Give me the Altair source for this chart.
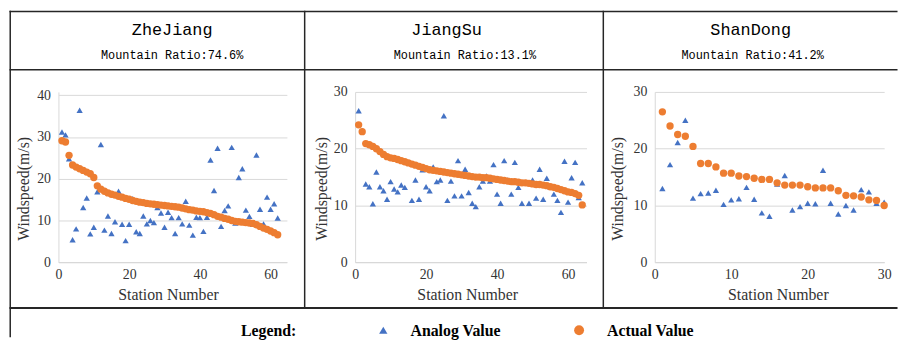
import altair as alt
import pandas as pd

BLUE = "#4472C4"
ORANGE = "#ED7D31"
LINE = "#262626"
MONO = "Liberation Mono"
SERIF = "Liberation Serif"

provinces = ["ZheJiang", "JiangSu", "ShanDong"]
mountain_ratio = ["Mountain Ratio:74.6%", "Mountain Ratio:13.1%", "Mountain Ratio:41.2%"]
series_names = ["Analog Value", "Actual Value"]

zj_analog = [31.2, 30.5, 24.8, 5.4, 8.0, 36.4, 13.1, 15.4, 6.8, 8.4,
             16.9, 28.2, 7.7, 11.1, 6.9, 9.7, 17.0, 9.1, 5.2, 9.1,
             15.2, 7.3, 6.9, 11.1, 9.2, 10.0, 9.5, 13.1, 11.8, 8.4,
             12.0, 10.7, 6.9, 10.7, 9.2, 14.6, 8.9, 6.5, 10.8, 10.7,
             7.4, 10.8, 24.5, 17.2, 27.3, 8.6, 12.4, 13.5, 27.5, 9.4,
             20.3, 22.4, 12.5, 11.0, 9.1, 25.7, 12.7, 9.2, 15.6, 12.7,
             14.0, 10.6]
zj_actual = [29.1, 28.8, 25.6, 23.3, 22.8, 22.4, 22.0, 21.6, 21.2, 20.3,
             18.3, 17.5, 17.0, 16.6, 16.3, 16.1, 15.8, 15.6, 15.3, 15.1,
             14.8, 14.6, 14.4, 14.3, 14.1, 14.0, 13.9, 13.8, 13.7, 13.6,
             13.5, 13.4, 13.3, 13.2, 13.0, 12.8, 12.6, 12.5, 12.3, 12.2,
             12.1, 11.9, 11.7, 11.4, 11.0, 10.8, 10.5, 10.3, 10.0, 9.8,
             9.7, 9.6, 9.5, 9.4, 9.3, 9.0, 8.6, 8.2, 7.9, 7.5,
             7.1, 6.6]

js_analog = [26.7, 23.2, 13.8, 13.3, 10.3, 15.9, 13.3, 12.6, 11.1, 14.2,
             12.9, 12.4, 13.6, 13.2, 17.6, 10.9, 14.5, 11.1, 16.3, 13.3,
             12.6, 16.8, 14.2, 14.5, 25.8, 10.9, 14.3, 11.7, 17.9, 11.7,
             16.4, 12.3, 10.4, 9.8, 13.3, 14.3, 15.2, 14.3, 17.2, 12.0,
             10.4, 17.9, 14.5, 12.0, 17.6, 13.2, 10.4, 14.0, 10.4, 14.5,
             11.3, 16.4, 11.1, 14.8, 13.3, 12.0, 10.9, 8.8, 17.8, 10.6,
             14.9, 17.6, 11.4, 14.0]
js_actual = [24.2, 23.0, 20.9, 20.7, 20.4, 20.0, 19.5, 19.0, 18.6, 18.4,
             18.3, 18.1, 17.9, 17.7, 17.5, 17.3, 17.1, 16.9, 16.7, 16.5,
             16.3, 16.2, 16.1, 16.0, 15.9, 15.8, 15.7, 15.6, 15.5, 15.4,
             15.3, 15.2, 15.1, 15.0, 15.0, 14.9, 14.9, 14.8, 14.7, 14.6,
             14.5, 14.4, 14.3, 14.2, 14.2, 14.1, 14.0, 14.0, 13.9, 13.8,
             13.7, 13.7, 13.6, 13.5, 13.3, 13.2, 13.0, 12.8, 12.6, 12.4,
             12.3, 12.1, 11.8, 10.1]

sd_analog = [13.0, 17.2, 21.1, 25.0, 11.3, 12.1, 12.2, 12.7, 10.2, 11.0,
             11.2, 13.2, 11.1, 8.7, 8.1, 13.8, 15.3, 9.2, 9.8, 10.4,
             10.3, 16.2, 10.4, 8.5, 10.0, 9.2, 12.8, 12.4, 10.4, 10.6]
sd_actual = [26.5, 24.0, 22.5, 22.2, 20.4, 17.4, 17.4, 16.8, 15.7, 15.7,
             15.2, 15.1, 14.8, 14.6, 14.6, 14.0, 13.6, 13.6, 13.6, 13.3,
             13.1, 13.1, 13.1, 12.6, 11.8, 11.7, 11.5, 11.0, 10.9, 10.0]

x_ticks_long = [0, 20, 40, 60]
x_ticks_short = [0, 10, 20, 30]
y_ticks_40 = [0, 10, 20, 30, 40]
y_ticks_30 = [0, 10, 20, 30]

PLOT_H = 172.3
one = pd.DataFrame({"k": [0]})


def txt(s, x, y, size, font, weight="normal", align="center"):
    return alt.Chart(one).mark_text(
        text=s, font=font, fontSize=size, fontWeight=weight, align=align,
        baseline="middle", color="#000000"
    ).encode(x=alt.value(x), y=alt.value(y))


def hline(x1, x2, y, w=1.5):
    return alt.Chart(one).mark_rule(color=LINE, strokeWidth=w).encode(
        x=alt.value(x1), x2=alt.value(x2), y=alt.value(y))


def vline(x, y1, y2, w=1.5):
    return alt.Chart(one).mark_rule(color=LINE, strokeWidth=w).encode(
        x=alt.value(x), y=alt.value(y1), y2=alt.value(y2))


def sym(shape, x, y, size, color):
    return alt.Chart(one).mark_point(
        shape=shape, filled=True, opacity=1, size=size, color=color
    ).encode(x=alt.value(x), y=alt.value(y))


def scatter(analog, actual, xmax, ymax, width, xticks, yticks, xtitle_x, ytitle_x, tri, dot):
    n = len(analog)
    st = list(range(1, n + 1))
    df = pd.DataFrame({
        "station": st + st,
        "speed": analog + actual,
        "series": [series_names[0]] * n + [series_names[1]] * n,
    })
    return alt.Chart(df).mark_point(filled=True, opacity=1).encode(
        x=alt.X("station:Q",
                scale=alt.Scale(domain=[0, xmax], nice=False, zero=False),
                axis=alt.Axis(values=xticks, title="Station Number", grid=False,
                              labelPadding=5, labelFlush=False,
                              titleX=xtitle_x, titleY=33, titleAlign="center",
                              titleBaseline="middle")),
        y=alt.Y("speed:Q",
                scale=alt.Scale(domain=[0, ymax], nice=False),
                axis=alt.Axis(values=yticks, title="Windspeed(m/s)", grid=True,
                              labelPadding=8, titleX=ytitle_x, titleY=97.5,
                              titleAngle=270, titleAlign="center",
                              titleBaseline="middle")),
        shape=alt.Shape("series:N", scale=alt.Scale(domain=series_names,
                        range=["triangle-up", "circle"]), legend=None),
        color=alt.Color("series:N", scale=alt.Scale(domain=series_names,
                        range=[BLUE, ORANGE]), legend=None),
        size=alt.Size("series:N", scale=alt.Scale(domain=series_names,
                      range=[tri, dot]), legend=None),
    ).properties(width=width, height=PLOT_H)


# panel 1 origin (page): (57.5, 90)
deco1 = [
    hline(-49.5, 848.5, -81.25),
    vline(-48.75, -82, 248),
    hline(-49.5, 848.5, -22.5),
    hline(-49.5, 848.5, 218.5, 2),
    vline(249, -82, 218.5),
    vline(551, -82, 218.5),
    txt(provinces[0], 115, -62.5, 17, MONO),
    txt(mountain_ratio[0], 115, -37.5, 12, MONO),
    txt("Legend:", 212.5, 241.5, 16, SERIF, "bold"),
    sym("triangle-up", 328.5, 241, 70, BLUE),
    txt(series_names[0], 356, 242, 16, SERIF, "bold", "left"),
    sym("circle", 526.5, 241, 100, ORANGE),
    txt(series_names[1], 554.8, 242, 16, SERIF, "bold", "left"),
]
p1 = alt.layer(*deco1, scatter(zj_analog, zj_actual, 64.6, 40.78, 231,
                               x_ticks_long, y_ticks_40, 110.8, -34.8, 40, 55))

deco2 = [
    txt(provinces[1], 92.5, -62.5, 17, MONO),
    txt(mountain_ratio[1], 111, -37.5, 12, MONO),
]
p2 = alt.layer(*deco2, scatter(js_analog, js_actual, 65.2, 30, 234,
                               x_ticks_long, y_ticks_30, 113.3, -34.2, 40, 55))

deco3 = [
    txt(provinces[2], 97, -62.5, 17, MONO),
    txt(mountain_ratio[2], 99, -37.5, 12, MONO),
]
p3 = alt.layer(*deco3, scatter(sd_analog, sd_actual, 30, 30, 232,
                               x_ticks_short, y_ticks_30, 124.5, -37.2, 50, 65))

chart = alt.hconcat(p1, p2, p3, spacing=69, bounds="flush").properties(
    padding=0, background="white"
).configure_view(stroke=None).configure_axis(
    labelFont=SERIF, labelFontSize=14, labelColor="#333333",
    titleFont=SERIF, titleFontSize=16, titleFontWeight="normal", titleColor="#333333",
    ticks=False, domainColor="#D9D9D9", gridColor="#D9D9D9", domainWidth=1, gridWidth=1,
)

chart.save("out.html", embed_options={"renderer": "svg", "actions": False})
